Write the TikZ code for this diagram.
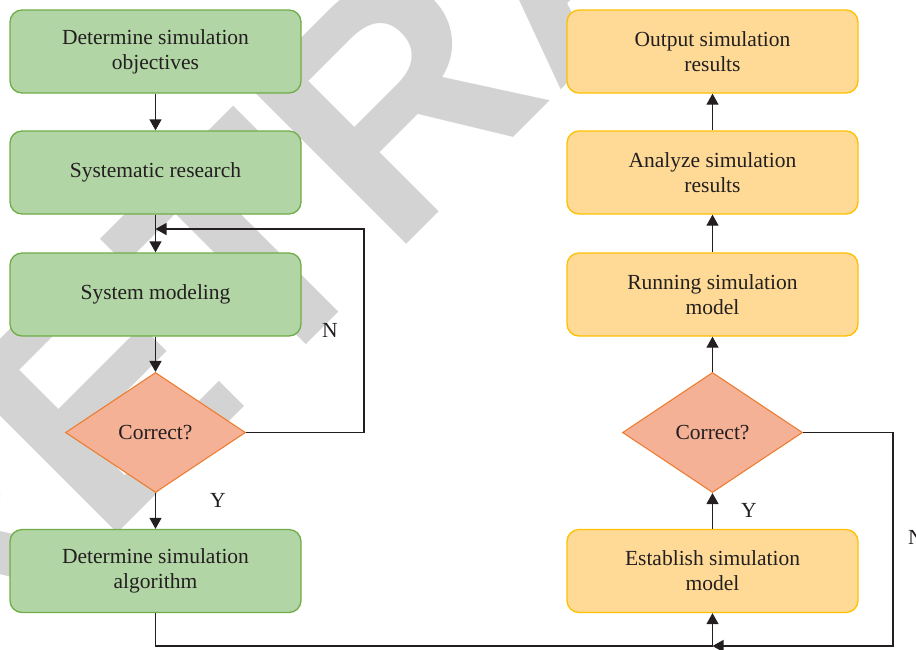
\documentclass[tikz,border=0pt]{standalone}
\usepackage{fontspec}
\setmainfont{Liberation Serif}
\newfontfamily\markfont{Liberation Sans}
\usetikzlibrary{shapes.geometric,arrows.meta}

\definecolor{greenfill}{HTML}{B2D5A5}
\definecolor{greenline}{HTML}{70AD47}
\definecolor{goldfill}{HTML}{FEDA96}
\definecolor{goldline}{HTML}{FFC000}
\definecolor{decfill}{HTML}{F4B196}
\definecolor{decline}{HTML}{ED7D31}
\definecolor{ink}{HTML}{231F20}
\definecolor{markgray}{HTML}{D3D3D3}

\begin{document}
\begin{tikzpicture}[x=1pt,y=-1pt,
  font=\fontsize{21.5}{25}\selectfont, text=ink,
  procbox/.style={rectangle, rounded corners=12pt, line width=1.3pt,
    minimum width=291pt, minimum height=83pt, inner sep=0pt, align=center},
  greenbox/.style={procbox, draw=greenline, fill=greenfill},
  goldbox/.style={procbox, draw=goldline, fill=goldfill},
  decision/.style={diamond, draw=decline, fill=decfill, line width=1.1pt,
    minimum width=180pt, minimum height=120pt, inner sep=0pt, aspect=1.5},
  flow/.style={draw=ink, line width=1.3pt, -{Triangle[length=11pt,width=12pt]}},
  link/.style={draw=ink, line width=1.3pt},
  answer/.style={inner sep=0pt}
]
\useasboundingbox (0,0) rectangle (916,649);

% diagonal stamp behind the chart
\begin{scope}
  \clip (0,0) rectangle (916,649);
  \node[rotate=45, anchor=base west, text=markgray, inner sep=0pt,
        font=\markfont\bfseries\fontsize{320}{320}\selectfont]
        (stamp) at (-61,712) {RETRACTED};
\end{scope}

% left column: modelling steps
\node[greenbox] (obj) at (155.5,51.5) {Determine simulation\\objectives};
\node[greenbox] (res) at (155.5,172.5) {Systematic research};
\node[greenbox] (mod) at (155.5,294.5) {System modeling};
\node[decision] (chk1) at (155.5,432.5) {Correct?};
\node[greenbox] (alg) at (155.5,571) {Determine simulation\\algorithm};

% right column: running the model
\node[goldbox] (out) at (712.5,51.5) {Output simulation\\results};
\node[goldbox] (ana) at (712.5,172.5) {Analyze simulation\\results};
\node[goldbox] (run) at (712.5,294.5) {Running simulation\\model};
\node[decision] (chk2) at (712.5,432.5) {Correct?};
\node[goldbox] (est) at (712.5,571) {Establish simulation\\model};

% junction points
\coordinate (merge) at (155.5,229);
\coordinate (join) at (712.5,646);

% left column flow
\draw[flow] (obj) -- (res);
\draw[flow] (res) -- (mod);
\draw[flow] (mod) -- (chk1);
\draw[flow] (chk1) -- (alg);
\draw[flow] (chk1.east) -- ++(118,0) |- (merge);
\node[answer] (n1) at (330,330) {N};
\node[answer] (y1) at (218,500) {Y};

% bottom link and right column flow
\draw[link] (alg.south) |- (join);
\draw[flow] (chk2.east) -- ++(90,0) |- (join);
\draw[flow] (join) -- (est);
\draw[flow] (est) -- (chk2);
\draw[flow] (chk2) -- (run);
\draw[flow] (run) -- (ana);
\draw[flow] (ana) -- (out);
\node[answer] (y2) at (749,510) {Y};
\node[answer, anchor=west] (n2) at (908,537) {N};
\end{tikzpicture}
\end{document}
